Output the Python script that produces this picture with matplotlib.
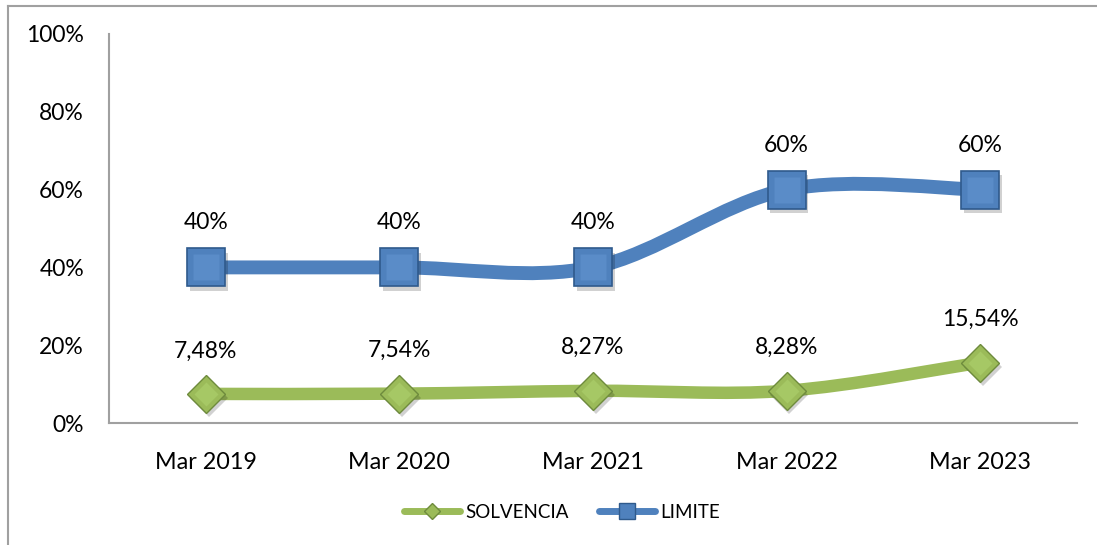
import matplotlib
matplotlib.use("Agg")
import matplotlib.pyplot as plt
import numpy as np
from matplotlib.path import Path
from matplotlib.patches import PathPatch
from matplotlib.lines import Line2D
import matplotlib.transforms as mtransforms

categories = ["Mar 2019", "Mar 2020", "Mar 2021", "Mar 2022", "Mar 2023"]
solvencia = [7.48, 7.54, 8.27, 8.28, 15.54]
limite = [40, 40, 40, 60, 60]
solvencia_labels = ["7,48%", "7,54%", "8,27%", "8,28%", "15,54%"]
limite_labels = ["40%", "40%", "40%", "60%", "60%"]
yticks = [0, 20, 40, 60, 80, 100]
ytick_labels = ["0%", "20%", "40%", "60%", "80%", "100%"]

BLUE = "#4F81BD"
BLUE_EDGE = "#2F5A8C"
GREEN = "#9BBB59"
GREEN_EDGE = "#6E8B3D"
FONT = "Lato"

plt.rcParams['font.family'] = [FONT, 'DejaVu Sans']

fig = plt.figure(figsize=(10.97, 5.45), dpi=100)
ax = fig.add_axes([109/1097, 1-423/545, (1077-109)/1097, (423-34)/545])

x = np.arange(len(categories))


def smooth_path(xs, ys):
    pts = np.column_stack([xs, ys]).astype(float)
    n = len(pts)
    verts = [pts[0]]
    codes = [Path.MOVETO]
    for i in range(n - 1):
        p0 = pts[i - 1] if i > 0 else pts[i]
        p1 = pts[i]
        p2 = pts[i + 1]
        p3 = pts[i + 2] if i + 2 < n else pts[i + 1]
        c1 = p1 + (p2 - p0) / 6.0
        c2 = p2 - (p3 - p1) / 6.0
        verts += [c1, c2, p2]
        codes += [Path.CURVE4] * 3
    return Path(verts, codes)


ax.add_patch(PathPatch(smooth_path(x, solvencia), fill=False, edgecolor=GREEN,
                       lw=9, capstyle='round', joinstyle='round', zorder=2))
ax.add_patch(PathPatch(smooth_path(x, limite), fill=False, edgecolor=BLUE,
                       lw=10, capstyle='round', joinstyle='round', zorder=2))

# soft marker shadows
shadow_tr = ax.transData + mtransforms.ScaledTranslation(2/72, -3/72, fig.dpi_scale_trans)
ax.plot(x, solvencia, linestyle='none', marker='D', markersize=19.5, color='black',
        alpha=0.18, markeredgewidth=0, transform=shadow_tr, zorder=2.5)
ax.plot(x, limite, linestyle='none', marker='s', markersize=27, color='black',
        alpha=0.18, markeredgewidth=0, transform=shadow_tr, zorder=2.5)

ax.plot(x, solvencia, linestyle='none', marker='D', markersize=19.5,
        markerfacecolor=GREEN, markeredgecolor=GREEN_EDGE, markeredgewidth=1, zorder=3)
ax.plot(x, limite, linestyle='none', marker='s', markersize=27,
        markerfacecolor=BLUE, markeredgecolor=BLUE_EDGE, markeredgewidth=1.2, zorder=3)
# bevel highlight (inner face)
ax.plot(x, limite, linestyle='none', marker='s', markersize=19,
        markerfacecolor='#5A8CC8', markeredgecolor='none', zorder=3.1)
ax.plot(x, solvencia, linestyle='none', marker='D', markersize=12,
        markerfacecolor='#A6C865', markeredgecolor='none', zorder=3.1)

for xi, v, lab in zip(x, limite, limite_labels):
    ax.annotate(lab, (xi, v), xytext=(0, 32), textcoords='offset points',
                ha='center', va='center', fontsize=16.5, color='black')
for xi, v, lab in zip(x, solvencia, solvencia_labels):
    ax.annotate(lab, (xi, v), xytext=(0, 31), textcoords='offset points',
                ha='center', va='center', fontsize=16.5, color='black')

ax.set_xlim(-0.5, len(categories) - 0.5)
ax.set_ylim(0, 100)
ax.set_yticks(yticks)
ax.set_yticklabels(ytick_labels, fontsize=16.5)
ax.set_xticks(x)
ax.set_xticklabels(categories, fontsize=16.8)
ax.tick_params(axis='both', length=0)
ax.tick_params(axis='y', pad=18)
ax.tick_params(axis='x', pad=21)
for s in ['top', 'right']:
    ax.spines[s].set_visible(False)
for s in ['left', 'bottom']:
    ax.spines[s].set_color('#A0A0A0')
    ax.spines[s].set_linewidth(1.5)

handles = [
    Line2D([], [], color=GREEN, lw=5, solid_capstyle='round', marker='D', markersize=8,
           markerfacecolor=GREEN, markeredgecolor=GREEN_EDGE),
    Line2D([], [], color=BLUE, lw=5, solid_capstyle='round', marker='s', markersize=11,
           markerfacecolor=BLUE, markeredgecolor=BLUE_EDGE),
]
fig.legend(handles, ["SOLVENCIA", "LIMITE"], loc='center', bbox_to_anchor=(562/1097, 1-512/545),
           ncol=2, frameon=False, fontsize=13.5, handlelength=3.0, handletextpad=0.3,
           columnspacing=1.6)

# outer frame (top and left edges visible)
fig.add_artist(Line2D([8/1097, 1096/1097], [1-6/545, 1-6/545], color='#A0A0A0', lw=1.5,
                      transform=fig.transFigure))
fig.add_artist(Line2D([8/1097, 8/1097], [1-6/545, 0], color='#A0A0A0', lw=1.5,
                      transform=fig.transFigure))

fig.savefig("out.png", dpi=100)
